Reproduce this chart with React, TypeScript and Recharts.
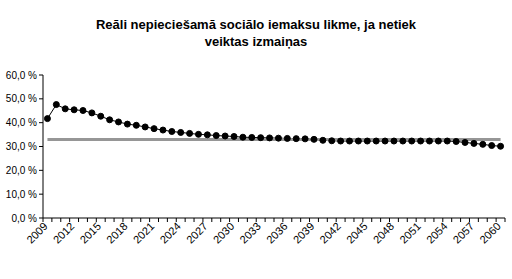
import { LineChart, Line, XAxis, YAxis } from "recharts";

const years = Array.from({ length: 52 }, (_, i) => String(2009 + i));

// nepieciešamā sociālo iemaksu likme, %
const rate = [
  41.7, 47.6, 45.8, 45.4, 45.1, 44.1, 42.7, 41.2, 40.3, 39.4,
  38.9, 38.2, 37.5, 36.9, 36.3, 35.9, 35.5, 35.1, 34.9, 34.6,
  34.4, 34.2, 33.9, 33.8, 33.7, 33.6, 33.5, 33.4, 33.3, 33.2,
  33.0, 32.6, 32.4, 32.3, 32.3, 32.3, 32.3, 32.3, 32.3, 32.3,
  32.3, 32.3, 32.3, 32.3, 32.3, 32.3, 32.1, 31.7, 31.3, 30.9,
  30.4, 30.1,
];

const currentRate = 32.9;

const yTicks = [0, 10, 20, 30, 40, 50, 60];

const data = years.map((y, i) => ({ year: y, rate: rate[i], current: currentRate }));

const font = "'Liberation Sans', Arial, sans-serif";
const half = 4.44; // half a category step

function YearTick(props: any) {
  const { x, y, payload, index } = props;
  const showLabel = index % 3 === 0;
  return (
    <g>
      <line x1={x - half} x2={x - half} y1={y - 8} y2={y - 4} stroke="#000" />
      {index === years.length - 1 && (
        <line x1={x + half} x2={x + half} y1={y - 8} y2={y - 4} stroke="#000" />
      )}
      {showLabel && (
        <text
          x={x + 1}
          y={y + 1}
          transform={`rotate(-45, ${x + 1}, ${y + 1})`}
          textAnchor="end"
          fontSize={11}
          fontFamily={font}
          fill="#000"
        >
          {payload.value}
        </text>
      )}
    </g>
  );
}

function PctTick(props: any) {
  const { x, y, payload } = props;
  return (
    <text x={x} y={y} dy="0.35em" textAnchor="end" fontSize={10} fontFamily={font} fill="#000">
      {payload.value.toFixed(1).replace(".", ",") + " %"}
    </text>
  );
}

export default function App() {
  return (
    <div style={{ position: "absolute", left: 0, top: 0, width: 512, height: 279, background: "#fff" }}>
      <div
        style={{
          position: "absolute",
          left: 0,
          top: 16,
          width: 512,
          textAlign: "center",
          fontFamily: font,
          fontWeight: "bold",
          fontSize: 13,
          lineHeight: "17px",
          color: "#000",
        }}
      >
        Reāli nepieciešamā sociālo iemaksu likme, ja netiek
        <br />
        veiktas izmaiņas
      </div>
      <LineChart width={512} height={279} data={data} margin={{ top: 75, right: 7, bottom: 0, left: 0 }}>
        <XAxis
          dataKey="year"
          interval={0}
          height={61}
          padding={{ left: half, right: half }}
          tickLine={false}
          axisLine={{ stroke: "#000" }}
          tick={<YearTick />}
        />
        <YAxis
          width={43}
          domain={[0, 60]}
          ticks={yTicks}
          interval={0}
          tickSize={4}
          tickLine={{ stroke: "#000" }}
          axisLine={{ stroke: "#000" }}
          tick={<PctTick />}
        />
        <Line
          dataKey="rate"
          stroke="#000"
          strokeWidth={1}
          dot={{ r: 3, fill: "#000", stroke: "#000", strokeWidth: 1 }}
          isAnimationActive={false}
        />
        <Line
          dataKey="current"
          stroke="#969696"
          strokeWidth={3}
          dot={false}
          isAnimationActive={false}
        />
      </LineChart>
    </div>
  );
}
